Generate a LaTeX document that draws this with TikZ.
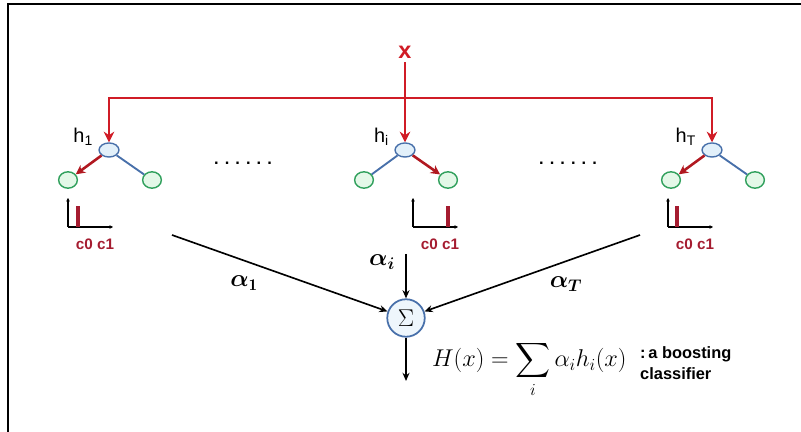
\documentclass[tikz,border=0pt]{standalone}
\usepackage{amsmath,bm}
\usepackage{fontspec}
\setsansfont{Liberation Sans}
\usetikzlibrary{arrows.meta,shapes.geometric}
\definecolor{InputRed}{RGB}{208,28,38}
\definecolor{LabelRed}{RGB}{165,28,48}
\definecolor{BranchBlue}{RGB}{72,112,170}
\definecolor{RootFill}{RGB}{226,240,250}
\definecolor{LeafGreen}{RGB}{48,160,92}
\definecolor{LeafFill}{RGB}{228,248,232}

\tikzset{
  root/.style={ellipse,draw=BranchBlue,fill=RootFill,line width=1.2pt,
    minimum width=17pt,minimum height=12pt,inner sep=0pt},
  leaf/.style={ellipse,draw=LeafGreen,fill=LeafFill,line width=1.2pt,
    minimum width=16pt,minimum height=14pt,inner sep=0pt},
  feed/.style={-{Stealth[length=9pt,width=9pt]},InputRed,line width=2.4pt},
  pick/.style={-{Stealth[length=8pt,width=8pt]},InputRed!85!black,line width=2.2pt},
  branch/.style={BranchBlue,line width=1.6pt},
  axis/.style={-{Stealth[length=3pt,width=3pt]},line width=0.9pt},
  barline/.style={LabelRed,line width=2.6pt},
  weight/.style={-{Stealth[length=7pt,width=6pt]},line width=1.4pt},
  hlab/.style={font=\sffamily\fontsize{17}{19}\selectfont},
  cls/.style={font=\sffamily\bfseries\fontsize{13}{15}\selectfont,text=LabelRed,inner sep=0pt},
  alab/.style={font=\fontsize{20}{22}\selectfont},
}

\begin{document}
\begin{tikzpicture}[x=0.03cm,y=-0.03cm]
  \useasboundingbox (0,0) rectangle (801,432);
  \draw[line width=1.5pt] (8,432) -- (8,4) -- (801,4);

  % three weak learners with their leaf histograms
  \foreach \t/\cx/\ox/\bx in {1/109/68/78, i/405/413/448, T/712/668/677} {
    \node[root] (r\t) at (\cx,150) {};
    \node[leaf] (l\t) at (\cx-41,180) {};
    \node[leaf] (k\t) at (\cx+43,180) {};
    \node[hlab,anchor=east] (h\t) at (\cx-12,137) {h\textsubscript{\t}};
    \coordinate (o\t) at (\ox,227);
    \draw[axis] (o\t) -- ++(0,-29);
    \draw[axis] (o\t) -- ++(45,0);
    \draw[barline] (\bx,227) -- (\bx,206);
    \node[cls] (c\t) at (\ox+27,244) {c0 c1};
  }
  \draw[pick] (r1) -- (l1);  \draw[branch] (r1) -- (k1);
  \draw[branch] (ri) -- (li); \draw[pick] (ri) -- (ki);
  \draw[pick] (rT) -- (lT);  \draw[branch] (rT) -- (kT);

  \node[font=\sffamily\bfseries\fontsize{14}{16}\selectfont] (d1) at (243,163) {. . . . . .};
  \node[font=\sffamily\bfseries\fontsize{14}{16}\selectfont] (d2) at (568,163) {. . . . . .};

  % input x fed to every learner
  \node[font=\sffamily\bfseries\fontsize{20}{22}\selectfont,text=InputRed] (x) at (405,52) {x};
  \coordinate (bus) at (405,98);
  \draw[feed] (x) -- (ri);
  \draw[feed] (ri |- bus) -- (r1 |- bus) -- (r1);
  \draw[feed] (ri |- bus) -- (rT |- bus) -- (rT);

  % weighted vote
  \node[circle,draw=BranchBlue,fill=RootFill!60,line width=1.5pt,minimum size=32pt,
    inner sep=0pt,font=\fontsize{21}{23}\selectfont] (sum) at (406,318) {$\Sigma$};
  \coordinate (s1) at (172,235);
  \coordinate (si) at (406,254);
  \coordinate (sT) at (640,235);
  \coordinate (out) at (406,381);
  \draw[weight] (s1) -- (sum);
  \draw[weight] (si) -- (sum);
  \draw[weight] (sT) -- (sum);
  \draw[weight] (sum) -- (out);
  \node[alab] (a1) at (244,283) {$\bm{\alpha}_{\mathbf 1}$};
  \node[alab] (ai) at (382,262) {$\bm{\alpha}_{\bm i}$};
  \node[alab] (aT) at (566,284) {$\bm{\alpha}_{\bm T}$};

  \node[anchor=base west,font=\fontsize{21}{25}\selectfont] (H) at (428,367)
    {$H(x)=\displaystyle\sum_i\alpha_i h_i(x)$};
  \node[anchor=west,align=left,inner sep=0pt,
    font=\sffamily\bfseries\fontsize{14}{18.5}\selectfont] (note) at (640,363)
    {:\,a boosting\\classifier};
\end{tikzpicture}
\end{document}
